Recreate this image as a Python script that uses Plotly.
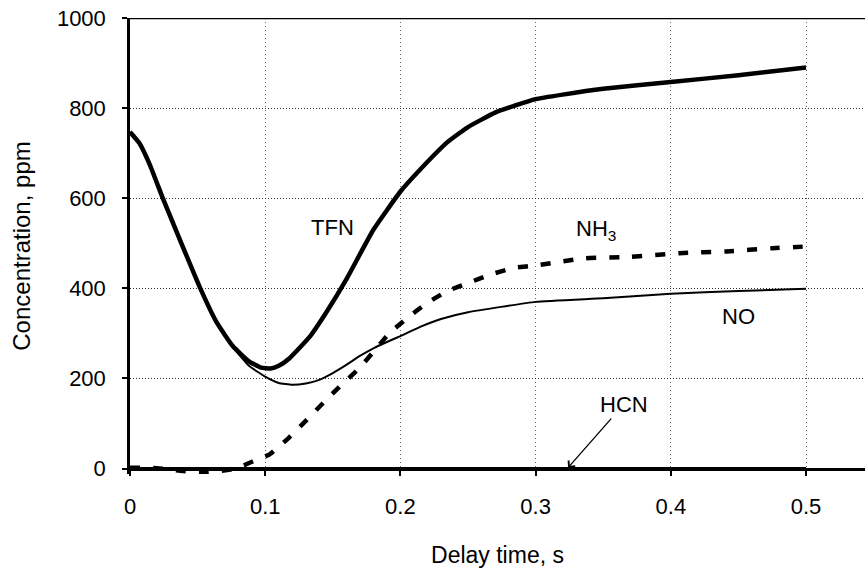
import plotly.graph_objects as go

# ---- data ----
time_tfn = [0, 0.007, 0.015, 0.024, 0.038, 0.052, 0.064, 0.076, 0.088, 0.097, 0.104, 0.11, 0.118,
            0.133, 0.145, 0.16, 0.18, 0.2, 0.215, 0.235, 0.25, 0.27, 0.285, 0.3, 0.32, 0.35,
            0.4, 0.45, 0.5]
tfn = [747, 722, 672, 602, 500, 400, 325, 272, 238, 224, 222, 228, 245,
       293, 346, 420, 530, 615, 665, 725, 758, 790, 806, 820, 830, 843,
       858, 873, 890]

time_no = [0, 0.007, 0.015, 0.024, 0.038, 0.052, 0.064, 0.076, 0.088, 0.1, 0.11, 0.12, 0.13, 0.14,
           0.15, 0.16, 0.17, 0.18, 0.19, 0.2, 0.215, 0.23, 0.25, 0.3, 0.35, 0.4, 0.45, 0.5]
no = [747, 722, 672, 602, 500, 400, 325, 270, 228, 204, 190, 186, 189, 197,
      212, 230, 250, 267, 281, 294, 315, 332, 347, 370, 378, 388, 394, 399]

time_nh3 = [0, 0.02, 0.037, 0.057, 0.078, 0.094, 0.103, 0.118, 0.131, 0.143, 0.155, 0.169,
            0.18, 0.192, 0.205, 0.218, 0.234, 0.251, 0.266, 0.283, 0.303, 0.32, 0.337, 0.37,
            0.406, 0.441, 0.475, 0.5]
nh3 = [2, 1, -5, -8, 0, 20, 31, 70, 109, 146, 182, 221,
       259, 301, 334, 364, 393, 413, 430, 445, 452, 460, 467, 470,
       478, 482, 489, 493]

time_hcn = [0, 0.1, 0.2, 0.3, 0.4, 0.5]
hcn = [0, 0, 0, 0, 0, 0]

x_ticks = [0, 0.1, 0.2, 0.3, 0.4, 0.5]
x_tick_labels = ["0", "0.1", "0.2", "0.3", "0.4", "0.5"]
y_ticks = [0, 200, 400, 600, 800, 1000]

labels = [("TFN", 0.150, 534), ("NH<sub>3</sub>", 0.345, 530), ("NO", 0.450, 337)]
hcn_label = ("HCN", 0.365, 142)
hcn_arrow_head = (0.324, 2)

X_MAX = 0.5436
Y_MIN, Y_MAX = -12, 1000
FONT = "Liberation Sans, Arial, sans-serif"

fig = go.Figure()
fig.add_trace(go.Scatter(x=time_tfn, y=tfn, mode="lines", name="TFN",
                         line=dict(color="black", width=4.5, shape="spline", smoothing=0.4)))
fig.add_trace(go.Scatter(x=time_no, y=no, mode="lines", name="NO",
                         line=dict(color="black", width=2, shape="spline", smoothing=0.4)))
fig.add_trace(go.Scatter(x=time_nh3, y=nh3, mode="lines", name="NH3",
                         line=dict(color="black", width=4.5, dash="10px,13px", shape="spline", smoothing=0.4)))
fig.add_trace(go.Scatter(x=time_hcn, y=hcn, mode="lines", name="HCN",
                         line=dict(color="black", width=3)))

for txt, xv, yv in labels:
    fig.add_annotation(x=xv, y=yv, text=txt, showarrow=False,
                       font=dict(family=FONT, size=22, color="black"))

# HCN label with its arrow pointing at the zero line
fig.add_annotation(x=hcn_arrow_head[0], y=hcn_arrow_head[1], ax=hcn_label[1], ay=hcn_label[2],
                   axref="x", ayref="y", xref="x", yref="y", text=hcn_label[0], showarrow=True,
                   arrowhead=4, arrowsize=1.3, arrowwidth=1.3, arrowcolor="black",
                   font=dict(family=FONT, size=22, color="black"))

# top frame line
fig.add_shape(type="line", xref="paper", x0=0, x1=1, yref="y", y0=Y_MAX, y1=Y_MAX,
              line=dict(color="black", width=2.5))

fig.update_layout(
    width=865, height=573,
    margin=dict(l=130, r=0, t=18, b=99, autoexpand=False),
    paper_bgcolor="white", plot_bgcolor="white",
    showlegend=False,
    font=dict(family=FONT, size=22, color="black"),
    xaxis=dict(range=[0, X_MAX], tickvals=x_ticks, ticktext=x_tick_labels,
               showgrid=True, gridcolor="#666", griddash="1px,3px", gridwidth=1,
               showline=True, linecolor="black", linewidth=3,
               ticks="outside", ticklen=5, tickwidth=1.5, tickcolor="black",
               anchor="free", position=(0 - Y_MIN) / (Y_MAX - Y_MIN),
               zeroline=False, automargin=False, ticklabelstandoff=12,
               tickfont=dict(size=22),
               title=dict(text="Delay time, s", font=dict(size=23), standoff=28)),
    yaxis=dict(range=[Y_MIN, Y_MAX], tickvals=y_ticks,
               showgrid=True, gridcolor="#333", griddash="1px,2px", gridwidth=1,
               showline=True, linecolor="black", linewidth=2.5,
               ticks="outside", ticklen=5, tickwidth=1.5, tickcolor="black",
               zeroline=False, automargin=False, ticklabelstandoff=12,
               tickfont=dict(size=22),
               title=dict(text="Concentration, ppm", font=dict(size=24), standoff=20)),
)

fig.write_html("out.html")
